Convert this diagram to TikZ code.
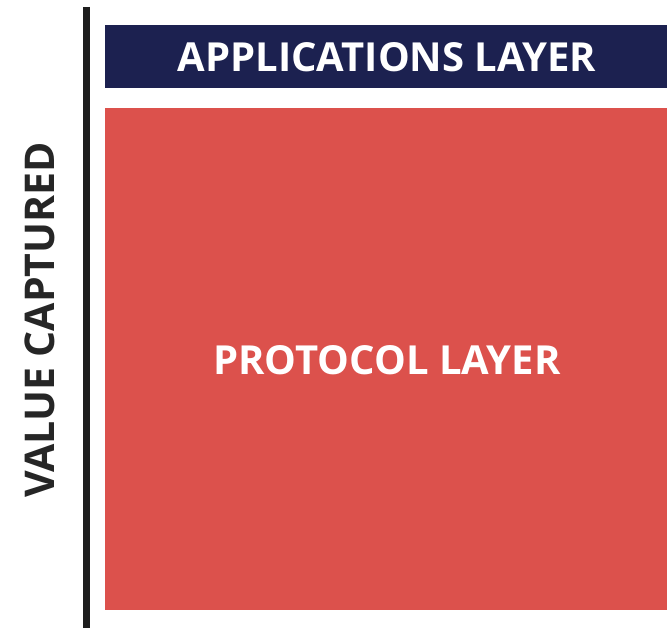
\documentclass[tikz,border=0pt]{standalone}
\usepackage{fontspec}
\setmainfont{Open Sans}
\definecolor{navy}{RGB}{28,33,80}
\definecolor{brick}{RGB}{220,81,76}
\definecolor{ink}{RGB}{38,38,38}
\tikzset{
  layertext/.style={text=white, font=\bfseries\fontsize{40}{44}\selectfont},
}
\begin{document}
\begin{tikzpicture}[x=1pt,y=-1pt]
\useasboundingbox (0,0) rectangle (667,628);

% 纵轴
\coordinate (axtop) at (86.5,7);
\coordinate (axbot) at (86.5,628);
\draw[line width=7pt, draw=ink!80!black] (axtop) -- (axbot);
\node[rotate=90, text=ink, font=\bfseries\fontsize{41}{44}\selectfont] (value) at (40,320) {VALUE CAPTURED};

% 两层方块
\fill[navy] (105,25) rectangle (667,88);
\fill[brick] (105,108) rectangle (667,610);
\node[layertext] (apps) at (387,57) {APPLICATIONS LAYER};
\node[layertext] (proto) at (387,360) {PROTOCOL LAYER};
\end{tikzpicture}
\end{document}
